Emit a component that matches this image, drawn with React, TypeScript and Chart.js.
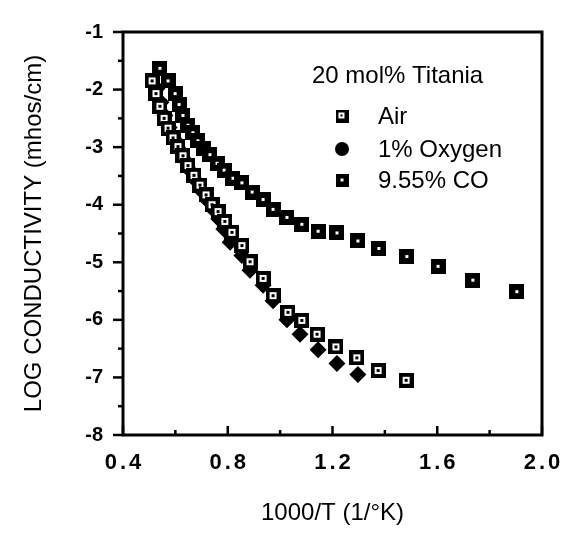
import React, { useEffect, useRef } from 'react';
import { Chart, registerables } from 'chart.js';

Chart.register(...registerables);

// ---- Data ----
const xTickValues = [0.4, 0.8, 1.2, 1.6, 2.0];
const yTickValues = [-1, -2, -3, -4, -5, -6, -7, -8];

const airX = [0.511, 0.526, 0.541, 0.557, 0.572, 0.591, 0.610, 0.629, 0.648, 0.671, 0.694, 0.717, 0.740, 0.763, 0.789, 0.816, 0.854, 0.885, 0.935, 0.973, 1.030, 1.083, 1.141, 1.213, 1.293, 1.374, 1.481];
const airY = [-1.85, -2.07, -2.29, -2.50, -2.67, -2.84, -2.99, -3.15, -3.32, -3.49, -3.66, -3.83, -4.00, -4.12, -4.29, -4.48, -4.71, -4.99, -5.28, -5.58, -5.87, -6.01, -6.25, -6.47, -6.66, -6.88, -7.05];

const oxyX = [0.530, 0.545, 0.560, 0.576, 0.595, 0.615, 0.635, 0.655, 0.678, 0.700, 0.724, 0.748, 0.766, 0.785, 0.809, 0.854, 0.885, 0.935, 0.973, 1.026, 1.076, 1.145, 1.217, 1.297];
const oxyY = [-1.98, -2.22, -2.45, -2.66, -2.86, -3.04, -3.22, -3.40, -3.58, -3.76, -3.93, -4.10, -4.25, -4.42, -4.65, -4.88, -5.14, -5.40, -5.67, -6.00, -6.25, -6.52, -6.76, -6.95];

const coX = [0.541, 0.572, 0.599, 0.614, 0.629, 0.648, 0.667, 0.686, 0.709, 0.732, 0.759, 0.786, 0.820, 0.854, 0.893, 0.935, 0.973, 1.026, 1.083, 1.145, 1.217, 1.297, 1.377, 1.484, 1.603, 1.736, 1.904];
const coY = [-1.63, -1.85, -2.07, -2.26, -2.45, -2.62, -2.75, -2.89, -3.03, -3.13, -3.28, -3.40, -3.54, -3.62, -3.78, -3.91, -4.08, -4.22, -4.34, -4.46, -4.49, -4.63, -4.76, -4.90, -5.07, -5.31, -5.51];

const legendTitle = '20 mol% Titania';
const seriesNames = ['Air', '1% Oxygen', '9.55% CO'];
const xTitle = '1000/T (1/°K)';
const yTitle = 'LOG CONDUCTIVITY (mhos/cm)';

const FONT = '"Liberation Sans", Arial, Helvetica, sans-serif';

function makeAirMarker(size: number): HTMLCanvasElement {
  const c = document.createElement('canvas');
  c.width = size; c.height = size;
  const g = c.getContext('2d')!;
  g.fillStyle = '#000';
  g.fillRect(0, 0, size, size);
  const inner = size >= 15 ? 7 : 6;
  const o = Math.floor((size - inner) / 2);
  g.fillStyle = '#fff';
  g.fillRect(o, o, inner, inner);
  g.fillStyle = '#000';
  g.fillRect(o + 2, o + 2, inner - 4, inner - 4);
  return c;
}

function makeCoMarker(size: number): HTMLCanvasElement {
  const c = document.createElement('canvas');
  c.width = size; c.height = size;
  const g = c.getContext('2d')!;
  g.fillStyle = '#000';
  g.fillRect(0, 0, size, size);
  g.fillStyle = '#fff';
  const d = size % 2 === 1 ? 3 : 2;
  g.fillRect(Math.floor((size - d) / 2), Math.floor((size - d) / 2), d, d);
  return c;
}

function toPoints(xs: number[], ys: number[]) {
  return xs.map((x, i) => ({ x, y: ys[i] }));
}

export default function App() {
  const ref = useRef<HTMLCanvasElement | null>(null);

  useEffect(() => {
    if (!ref.current) return;
    const airMarker = makeAirMarker(15);
    const coMarker = makeCoMarker(15);
    const airLegend = makeAirMarker(13);
    const coLegend = makeCoMarker(13);

    const decor = {
      id: 'decor',
      afterDraw(chart: any) {
        const ctx: CanvasRenderingContext2D = chart.ctx;
        const { left, right, top, bottom } = chart.chartArea;
        const xs = chart.scales.x;
        const ys = chart.scales.y;
        ctx.save();
        ctx.strokeStyle = '#000';
        ctx.fillStyle = '#000';
        // frame
        ctx.lineWidth = 3;
        ctx.lineCap = 'square';
        ctx.strokeRect(left, top, right - left, bottom - top);
        ctx.lineCap = 'butt';
        ctx.lineWidth = 2.5;
        const line = (x1: number, y1: number, x2: number, y2: number) => {
          ctx.beginPath(); ctx.moveTo(x1, y1); ctx.lineTo(x2, y2); ctx.stroke();
        };
        // x ticks (inward), with minor ticks in between
        const xt = xs.ticks.map((t: any) => t.value);
        xt.forEach((v: number, i: number) => {
          const px = xs.getPixelForValue(v);
          line(px, bottom, px, bottom - 9);
          if (i < xt.length - 1) {
            const pm = xs.getPixelForValue((v + xt[i + 1]) / 2);
            line(pm, bottom, pm, bottom - 5);
          }
        });
        // y ticks (outward), minor in between
        const yt = ys.ticks.map((t: any) => t.value);
        yt.forEach((v: number, i: number) => {
          const py = ys.getPixelForValue(v);
          line(left, py, left - 10, py);
          if (i < yt.length - 1) {
            const pm = ys.getPixelForValue((v + yt[i + 1]) / 2);
            line(left, pm, left - 5, pm);
          }
        });
        // x tick labels, letter-spaced
        ctx.font = `bold 22px ${FONT}`;
        (ctx as any).letterSpacing = '3px';
        ctx.textAlign = 'center';
        ctx.textBaseline = 'middle';
        xt.forEach((v: number) => {
          const px = xs.getPixelForValue(v);
          ctx.fillText(v.toFixed(1), px + 1.5, bottom + 28);
        });
        (ctx as any).letterSpacing = '0px';
        // legend block
        ctx.textAlign = 'left';
        ctx.font = `24px ${FONT}`;
        ctx.fillText(legendTitle, 312, 76);
        const rows = [116, 149, 180];
        const mx = 342;
        ctx.drawImage(airLegend, mx - 6.5, rows[0] - 6.5);
        ctx.beginPath(); ctx.arc(mx, rows[1], 7, 0, Math.PI * 2); ctx.fill();
        ctx.drawImage(coLegend, mx - 6.5, rows[2] - 6.5);
        seriesNames.forEach((n, i) => ctx.fillText(n, 378, rows[i] + 1));
        ctx.restore();
      },
    };

    const chart = new Chart(ref.current, {
      type: 'scatter',
      data: {
        datasets: [
          {
            label: seriesNames[0],
            data: toPoints(airX, airY),
            pointStyle: airMarker as any,
            pointRadius: 7,
            backgroundColor: '#000',
            borderColor: '#000',
          },
          {
            label: seriesNames[1],
            data: toPoints(oxyX, oxyY),
            pointStyle: 'rectRot',
            pointRadius: 8.5,
            backgroundColor: '#000',
            borderColor: '#000',
            borderWidth: 0,
          },
          {
            label: seriesNames[2],
            data: toPoints(coX, coY),
            pointStyle: coMarker as any,
            pointRadius: 7,
            backgroundColor: '#000',
            borderColor: '#000',
          },
        ],
      },
      options: {
        responsive: false,
        animation: false,
        events: [],
        layout: { padding: { left: 0, top: 24, right: 32, bottom: 0 } },
        plugins: { legend: { display: false }, tooltip: { enabled: false } },
        scales: {
          x: {
            type: 'linear',
            min: 0.4,
            max: 2.0,
            ticks: { stepSize: 0.4, display: false },
            grid: { display: false, drawTicks: false },
            border: { display: false },
            title: {
              display: true,
              text: xTitle,
              color: '#000',
              font: { family: FONT, size: 24, weight: 'normal' },
              padding: { top: 0, bottom: 11 },
            },
            afterFit: (s: any) => { s.height = 539 - 435; },
          },
          y: {
            type: 'linear',
            min: -8,
            max: -1,
            ticks: {
              stepSize: 1,
              color: '#000',
              padding: 20,
              font: { family: FONT, size: 20, weight: 'bold' },
              callback: (v: any) => String(v),
            },
            grid: { display: false, drawTicks: false },
            border: { display: false },
            title: {
              display: true,
              text: yTitle,
              color: '#000',
              font: { family: FONT, size: 24, weight: 'normal' },
              padding: { top: 20, bottom: 0 },
            },
            afterFit: (s: any) => { s.width = 123; },
          },
        },
      },
      plugins: [decor],
    } as any);

    return () => chart.destroy();
  }, []);

  return (
    <div style={{ position: 'absolute', left: 0, top: 0, width: 574, height: 539, background: '#fff' }}>
      <canvas ref={ref} width={574} height={539} style={{ display: 'block' }} />
    </div>
  );
}
